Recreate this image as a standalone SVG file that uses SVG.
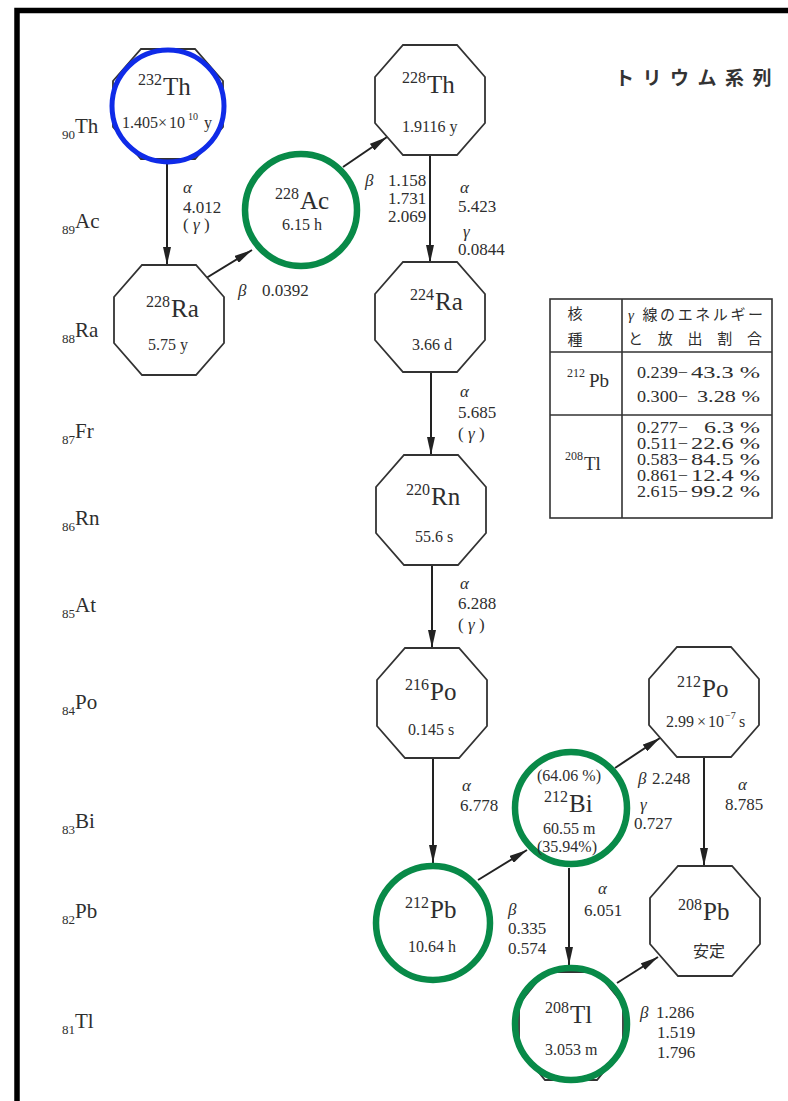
<svg xmlns="http://www.w3.org/2000/svg" xmlns:xlink="http://www.w3.org/1999/xlink" width="788" height="1101" viewBox="0 0 788 1101">
<style>
.oct{fill:#fff;stroke:#333;stroke-width:1.8}
.ring{fill:none;stroke-width:6.5}
.g{stroke:#088a48}
.b{stroke:#0f2be8;stroke-width:5}
.con{stroke:#222;stroke-width:2;fill:none}
text{font-family:'Liberation Serif','Times New Roman',serif;fill:#2e2e2e}
.m{font-size:16px}
.s{font-size:25px}
.h{font-size:16px}
.l{font-size:17px}
.gr{font-style:italic}
.ax{font-size:21px}
.sub{font-size:13px}
.tb{fill:none;stroke:#333;stroke-width:1.6}
.tn{font-size:16px}
</style>
<defs>
<polygon id="oct" points="-27,-55 27,-55 55,-23 55,23 27,55 -27,55 -55,23 -55,-23"/>
<polygon id="octs" points="-26,-54 26,-54 52,-22 52,22 26,54 -26,54 -52,22 -52,-22"/>
<marker id="ah" viewBox="0 0 18 8" refX="18" refY="4" markerWidth="18" markerHeight="8" markerUnits="userSpaceOnUse" orient="auto">
<path d="M0,0 L18,4 L0,8 z" fill="#222"/>
</marker>
</defs>
<rect width="788" height="1101" fill="#fff"/>
<path d="M17,1101 V10.5 H788" fill="none" stroke="#000" stroke-width="5.5"/>

<text x="615" y="85" font-size="19" font-weight="bold" letter-spacing="8.5" style="font-family:'Noto Sans CJK JP',sans-serif;fill:#333">トリウム系列</text>

<g id="axis">
<text x="62" y="133"><tspan class="sub" y="139">90</tspan><tspan class="ax" y="133">Th</tspan></text>
<text x="62" y="228"><tspan class="sub" y="234">89</tspan><tspan class="ax" y="228">Ac</tspan></text>
<text x="62" y="337"><tspan class="sub" y="343">88</tspan><tspan class="ax" y="337">Ra</tspan></text>
<text x="62" y="438"><tspan class="sub" y="444">87</tspan><tspan class="ax" y="438">Fr</tspan></text>
<text x="62" y="525"><tspan class="sub" y="531">86</tspan><tspan class="ax" y="525">Rn</tspan></text>
<text x="62" y="612"><tspan class="sub" y="618">85</tspan><tspan class="ax" y="612">At</tspan></text>
<text x="62" y="709"><tspan class="sub" y="715">84</tspan><tspan class="ax" y="709">Po</tspan></text>
<text x="62" y="828"><tspan class="sub" y="834">83</tspan><tspan class="ax" y="828">Bi</tspan></text>
<text x="62" y="918"><tspan class="sub" y="924">82</tspan><tspan class="ax" y="918">Pb</tspan></text>
<text x="62" y="1028"><tspan class="sub" y="1034">81</tspan><tspan class="ax" y="1028">Tl</tspan></text>
</g>

<g id="connectors">
<line class="con" x1="167" y1="158" x2="167" y2="265" marker-end="url(#ah)"/>
<line class="con" x1="203" y1="280" x2="252" y2="250" marker-end="url(#ah)"/>
<line class="con" x1="343" y1="167" x2="387" y2="137" marker-end="url(#ah)"/>
<line class="con" x1="430" y1="155" x2="430" y2="263" marker-end="url(#ah)"/>
<line class="con" x1="431" y1="372" x2="431" y2="455" marker-end="url(#ah)"/>
<line class="con" x1="432" y1="565" x2="432" y2="648" marker-end="url(#ah)"/>
<line class="con" x1="433" y1="758" x2="433" y2="863" marker-end="url(#ah)"/>
<line class="con" x1="478" y1="880" x2="527" y2="850" marker-end="url(#ah)"/>
<line class="con" x1="615" y1="768" x2="660" y2="738" marker-end="url(#ah)"/>
<line class="con" x1="569" y1="868" x2="569" y2="965" marker-end="url(#ah)"/>
<line class="con" x1="704" y1="757" x2="704" y2="866" marker-end="url(#ah)"/>
<line class="con" x1="617" y1="983" x2="658" y2="957" marker-end="url(#ah)"/>
<text x="183" y="193" class="l gr">α</text>
<text x="183" y="213" class="l">4.012</text>
<text x="183" y="230" class="l">( <tspan class="gr">γ</tspan> )</text>
<text x="238" y="296" class="l gr">β</text>
<text x="262" y="296" class="l">0.0392</text>
<text x="365" y="186" class="l gr">β</text>
<text x="388" y="186" class="l">1.158</text>
<text x="388" y="204" class="l">1.731</text>
<text x="388" y="222" class="l">2.069</text>
<text x="460" y="193" class="l gr">α</text>
<text x="458" y="212" class="l">5.423</text>
<text x="463" y="237" class="l gr">γ</text>
<text x="458" y="255" class="l">0.0844</text>
<text x="460" y="397" class="l gr">α</text>
<text x="458" y="418" class="l">5.685</text>
<text x="458" y="439" class="l">( <tspan class="gr">γ</tspan> )</text>
<text x="460" y="589" class="l gr">α</text>
<text x="458" y="609" class="l">6.288</text>
<text x="458" y="630" class="l">( <tspan class="gr">γ</tspan> )</text>
<text x="462" y="791" class="l gr">α</text>
<text x="460" y="811" class="l">6.778</text>
<text x="508" y="915" class="l gr">β</text>
<text x="508" y="934" class="l">0.335</text>
<text x="508" y="954" class="l">0.574</text>
<text x="638" y="784" class="l gr">β</text>
<text x="652" y="784" class="l">2.248</text>
<text x="640" y="810" class="l gr">γ</text>
<text x="634" y="829" class="l">0.727</text>
<text x="598" y="894" class="l gr">α</text>
<text x="584" y="916" class="l">6.051</text>
<text x="738" y="790" class="l gr">α</text>
<text x="725" y="810" class="l">8.785</text>
<text x="640" y="1018" class="l gr">β</text>
<text x="656" y="1018" class="l">1.286</text>
<text x="657" y="1038" class="l">1.519</text>
<text x="657" y="1058" class="l">1.796</text>
</g>

<g id="n-th232">
<use xlink:href="#oct" href="#oct" class="oct" x="168" y="104"/>
<circle class="ring b" cx="168" cy="106" r="56"/>
<text><tspan class="m" x="138" y="85">232</tspan><tspan class="s" dx="1" y="95">Th</tspan></text>
<text class="h" x="122" y="128">1.405<tspan x="158">×</tspan><tspan x="169">10</tspan><tspan font-size="10" x="188" y="120">10</tspan><tspan x="204" y="128">y</tspan></text>
</g>

<g id="n-ac228">
<circle class="ring g" cx="301" cy="210" r="56"/>
<text><tspan class="m" x="275" y="199">228</tspan><tspan class="s" dx="1" y="209">Ac</tspan></text>
<text class="h" x="282" y="230">6.15 h</text>
</g>

<g id="n-th228">
<use xlink:href="#oct" href="#oct" class="oct" x="430" y="100"/>
<text><tspan class="m" x="402" y="83">228</tspan><tspan class="s" dx="1" y="93">Th</tspan></text>
<text class="h" x="402" y="132">1.9116 y</text>
</g>

<g id="n-ra228">
<use xlink:href="#oct" href="#oct" class="oct" x="169" y="320"/>
<text><tspan class="m" x="146" y="307">228</tspan><tspan class="s" dx="1" y="317">Ra</tspan></text>
<text class="h" x="148" y="350">5.75 y</text>
</g>

<g id="n-ra224">
<use xlink:href="#oct" href="#oct" class="oct" x="430" y="317"/>
<text><tspan class="m" x="410" y="300">224</tspan><tspan class="s" dx="1" y="310">Ra</tspan></text>
<text class="h" x="412" y="350">3.66 d</text>
</g>

<g id="n-rn220">
<use xlink:href="#oct" href="#oct" class="oct" x="431" y="510"/>
<text><tspan class="m" x="406" y="495">220</tspan><tspan class="s" dx="1" y="505">Rn</tspan></text>
<text class="h" x="415" y="542">55.6 s</text>
</g>

<g id="n-po216">
<use xlink:href="#oct" href="#oct" class="oct" x="432" y="703"/>
<text><tspan class="m" x="405" y="690">216</tspan><tspan class="s" dx="1" y="700">Po</tspan></text>
<text class="h" x="408" y="735">0.145 s</text>
</g>

<g id="n-po212">
<use xlink:href="#oct" href="#oct" class="oct" x="704" y="702"/>
<text><tspan class="m" x="677" y="687">212</tspan><tspan class="s" dx="1" y="697">Po</tspan></text>
<text class="h" x="666" y="727">2.99<tspan x="697">×</tspan><tspan x="708">10</tspan><tspan font-size="10" x="725" y="719">−7</tspan><tspan x="739" y="727">s</tspan></text>
</g>

<g id="n-bi212">
<circle class="ring g" cx="571" cy="808" r="56"/>
<text class="m" x="537" y="781">(64.06 %)</text>
<text><tspan class="m" x="544" y="802">212</tspan><tspan class="s" dx="1" y="812">Bi</tspan></text>
<text class="h" x="543" y="834">60.55 m</text>
<text class="m" x="537" y="852">(35.94%)</text>
</g>

<g id="n-pb212">
<circle class="ring g" cx="433" cy="923" r="57"/>
<text><tspan class="m" x="405" y="908">212</tspan><tspan class="s" dx="1" y="918">Pb</tspan></text>
<text class="h" x="408" y="952">10.64 h</text>
</g>

<g id="n-pb208">
<use xlink:href="#oct" href="#oct" class="oct" x="705" y="921"/>
<text><tspan class="m" x="678" y="910">208</tspan><tspan class="s" dx="1" y="920">Pb</tspan></text>
<text x="693" y="957" font-size="16" style="font-family:'Noto Sans CJK JP',sans-serif">安定</text>
</g>

<g id="n-tl208">
<use xlink:href="#octs" href="#octs" class="oct" x="571" y="1026"/>
<circle class="ring g" cx="571" cy="1024" r="56"/>
<text><tspan class="m" x="545" y="1013">208</tspan><tspan class="s" dx="1" y="1023">Tl</tspan></text>
<text class="h" x="545" y="1055">3.053 m</text>
</g>

<g id="table">
<rect class="tb" x="550" y="299" width="222" height="219" stroke-width="2"/>
<line class="tb" x1="622" y1="299" x2="622" y2="518"/>
<line class="tb" x1="550" y1="352" x2="772" y2="352"/>
<line class="tb" x1="550" y1="415" x2="772" y2="415"/>
<text x="575" y="319" font-size="15" text-anchor="middle" style="font-family:'Noto Sans CJK JP',sans-serif">核</text>
<text x="575" y="345" font-size="15" text-anchor="middle" style="font-family:'Noto Sans CJK JP',sans-serif">種</text>
<text x="628" y="320" font-size="15" textLength="135" lengthAdjust="spacing" style="font-family:'Noto Sans CJK JP',sans-serif"><tspan style="font-family:'Liberation Serif',serif;font-style:italic">γ</tspan> 線のエネルギー</text>
<text x="628" y="344" font-size="15" textLength="134" lengthAdjust="spacing" style="font-family:'Noto Sans CJK JP',sans-serif">と 放 出 割 合</text>
<text><tspan font-size="12" x="567" y="377">212</tspan><tspan font-size="19" x="589" y="387">Pb</tspan></text>
<text><tspan font-size="12" x="565" y="460">208</tspan><tspan font-size="19" x="584" y="470">Tl</tspan></text>
<text class="tn" x="637" y="378" textLength="51" lengthAdjust="spacingAndGlyphs">0.239−</text><text class="tn" x="691" y="378" textLength="69" lengthAdjust="spacingAndGlyphs">43.3 %</text>
<text class="tn" x="637" y="402" textLength="51" lengthAdjust="spacingAndGlyphs">0.300−</text><text class="tn" x="697" y="402" textLength="63" lengthAdjust="spacingAndGlyphs">3.28 %</text>
<text class="tn" x="637" y="433" textLength="51" lengthAdjust="spacingAndGlyphs">0.277−</text><text class="tn" x="704" y="433" textLength="56" lengthAdjust="spacingAndGlyphs">6.3 %</text>
<text class="tn" x="637" y="449" textLength="51" lengthAdjust="spacingAndGlyphs">0.511−</text><text class="tn" x="691" y="449" textLength="69" lengthAdjust="spacingAndGlyphs">22.6 %</text>
<text class="tn" x="637" y="465" textLength="51" lengthAdjust="spacingAndGlyphs">0.583−</text><text class="tn" x="691" y="465" textLength="69" lengthAdjust="spacingAndGlyphs">84.5 %</text>
<text class="tn" x="637" y="481" textLength="51" lengthAdjust="spacingAndGlyphs">0.861−</text><text class="tn" x="691" y="481" textLength="69" lengthAdjust="spacingAndGlyphs">12.4 %</text>
<text class="tn" x="637" y="497" textLength="51" lengthAdjust="spacingAndGlyphs">2.615−</text><text class="tn" x="691" y="497" textLength="69" lengthAdjust="spacingAndGlyphs">99.2 %</text>
</g>
</svg>
